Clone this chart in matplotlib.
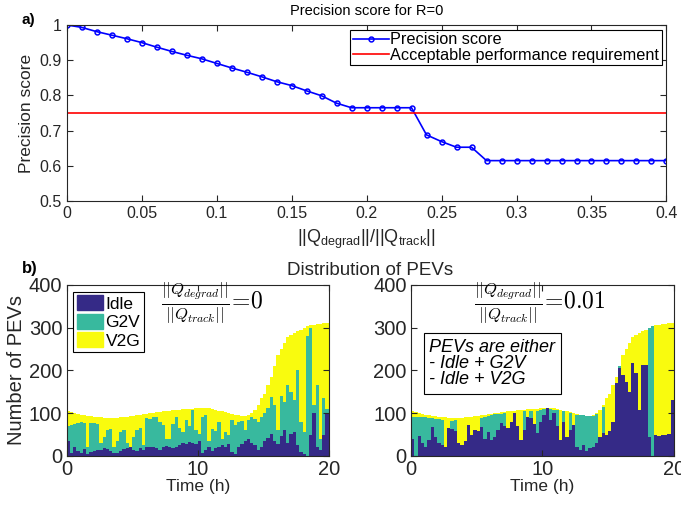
import matplotlib
matplotlib.use('Agg')
import matplotlib.pyplot as plt
import numpy as np
from matplotlib.patches import Patch

plt.rcParams['font.family'] = ['Liberation Sans', 'DejaVu Sans']

# ---- panel a) data
ratio = [0.00, 0.01, 0.02, 0.03, 0.04, 0.05, 0.06, 0.07, 0.08, 0.09, 0.10,
         0.11, 0.12, 0.13, 0.14, 0.15, 0.16, 0.17, 0.18, 0.19, 0.20,
         0.21, 0.22, 0.23, 0.24, 0.25, 0.26, 0.27, 0.28, 0.29, 0.30,
         0.31, 0.32, 0.33, 0.34, 0.35, 0.36, 0.37, 0.38, 0.39, 0.40]
precision = [1.000, 0.993, 0.981, 0.971, 0.961, 0.950, 0.937, 0.925, 0.914, 0.904, 0.891,
             0.878, 0.866, 0.853, 0.839, 0.828, 0.813, 0.799, 0.778, 0.765, 0.765,
             0.765, 0.765, 0.765, 0.688, 0.669, 0.653, 0.653, 0.615, 0.615, 0.615,
             0.615, 0.615, 0.615, 0.615, 0.615, 0.615, 0.615, 0.615, 0.615, 0.615]
requirement = 0.75
a_xticks = [0, 0.05, 0.1, 0.15, 0.2, 0.25, 0.3, 0.35, 0.4]
a_xlabels = ['0', '0.05', '0.1', '0.15', '0.2', '0.25', '0.3', '0.35', '0.4']
a_yticks = [0.5, 0.6, 0.7, 0.8, 0.9, 1.0]
a_ylabels = ['0.5', '0.6', '0.7', '0.8', '0.9', '1']

# ---- panel b) data (15 min slots, 0 .. 19.75 h)
hours = np.arange(80) * 0.25
total = [105, 102, 100, 98, 96, 95, 94, 93, 92, 91, 90, 89, 88, 88, 88, 89,
         90, 91, 92, 93, 94, 95, 96, 97, 98, 100, 101, 102, 103, 104, 105, 106,
         107, 108, 108, 109, 109, 110, 110, 111, 111, 112, 112, 111, 110, 108, 106, 104,
         102, 100, 98, 96, 95, 94, 94, 96, 100, 108, 120, 135, 145, 165, 185, 210,
         235, 250, 265, 278, 283, 288, 292, 295, 300, 303, 306, 307, 308, 309, 310, 311]

left_idle = [34, 6, 22, 12, 6, 16, 4, 10, 12, 13, 15, 18, 16, 12, 6, 8,
             12, 16, 18, 20, 15, 12, 18, 14, 20, 22, 20, 18, 15, 20, 24, 20,
             18, 22, 26, 30, 28, 32, 30, 28, 34, 8, 14, 20, 12, 18, 22, 25,
             20, 28, 10, 4, 20, 28, 34, 40, 30, 25, 15, 20, 36, 42, 52, 36,
             28, 46, 60, 30, 52, 56, 26, 10, 4, 0, 50, 100, 20, 15, 48, 100]
left_g2v = [36, 67, 53, 66, 74, 60, 16, 67, 64, 61, 15, 27, 44, 50, 16, 27,
            43, 44, 12, 2, 30, 48, 47, 11, 68, 64, 70, 74, 65, 52, 16, 20,
            57, 68, 39, 25, 57, 38, 78, 32, 18, 82, 81, 15, 50, 40, 58, 15,
            35, 22, 75, 68, 60, 54, 26, 45, 60, 61, 65, 72, 64, 70, 86, 84,
            32, 94, 65, 135, 98, 74, 174, 70, 51, 280, 250, 20, 145, 25, 87, 10]

right_idle = [40, 0, 47, 30, 20, 38, 68, 45, 30, 25, 20, 65, 62, 58, 30, 25,
              35, 72, 50, 60, 58, 68, 40, 55, 37, 45, 60, 77, 70, 65, 80, 100,
              70, 37, 60, 90, 88, 75, 54, 80, 95, 112, 85, 100, 70, 37, 80, 45,
              60, 72, 20, 15, 25, 12, 18, 22, 30, 45, 54, 50, 58, 80, 170, 205,
              190, 174, 150, 218, 194, 108, 213, 213, 45, 0, 48, 46, 50, 48, 52, 130]
right_g2v = [50, 90, 45, 62, 70, 50, 20, 42, 56, 60, 0, 0, 20, 25, 0, 0,
             0, 0, 0, 0, 0, 20, 52, 38, 58, 52, 38, 20, 30, 0, 0, 0,
             0, 0, 45, 0, 18, 0, 52, 28, 14, 0, 25, 8, 38, 0, 24, 0,
             40, 0, 76, 80, 70, 82, 76, 72, 68, 0, 60, 0, 0, 0, 0, 5,
             0, 0, 0, 0, 0, 0, 0, 0, 255, 303, 0, 0, 0, 0, 0, 0]

c_idle = '#352a87'
c_g2v = '#38b99e'
c_v2g = '#f9fb0e'
edge = '#262626'

fig = plt.figure(figsize=(6.81, 5.08), dpi=100)

# ---------------- a)
ax = fig.add_axes([0.0977, 0.604, 0.881, 0.347])
ax.plot(ratio, precision, '-o', color='blue', lw=1.2, ms=3.5, mfc='none', mew=1.1,
        label='Precision score')
ax.plot([0, 0.4], [requirement, requirement], color='red', lw=1.2,
        label='Acceptable performance requirement')
ax.set_xlim(0, 0.4)
ax.set_ylim(0.5, 1)
ax.set_xticks(a_xticks)
ax.set_xticklabels(a_xlabels)
ax.set_yticks(a_yticks)
ax.set_yticklabels(a_ylabels)
ax.tick_params(direction='in', top=True, right=True, labelsize=11.5, length=4,
               color=edge, labelcolor=edge)
ax.set_ylabel('Precision score', fontsize=12.5, labelpad=4, color=edge)
ax.set_xlabel(r'||Q$_\mathregular{degrad}$||/||Q$_\mathregular{track}$||', fontsize=13,
              labelpad=5, color=edge)
ax.set_title('Precision score for R=0', fontsize=10.5, pad=7)
leg = ax.legend(loc='upper right', fontsize=11.7, fancybox=False, edgecolor='black',
                framealpha=1, borderpad=0.15, handlelength=2.2, handletextpad=0.1,
                labelspacing=0.05, borderaxespad=0.3)
leg.get_frame().set_linewidth(0.8)
for s in ax.spines.values():
    s.set_color(edge)

fig.text(0.032, 0.96, 'a)', fontsize=11, fontweight='bold', va='center')
fig.text(0.032, 0.472, 'b)', fontsize=12, fontweight='bold', va='center')
fig.text(0.543, 0.468, 'Distribution of PEVs', fontsize=13.5, ha='center', va='center',
         color=edge)


def stacked(ax, idle, g2v):
    idle = np.array(idle)
    g2v = np.array(g2v)
    v2g = np.array(total) - idle - g2v
    ax.bar(hours, idle, width=0.25, align='edge', color=c_idle, edgecolor='none')
    ax.bar(hours, g2v, width=0.25, align='edge', bottom=idle, color=c_g2v, edgecolor='none')
    ax.bar(hours, v2g, width=0.25, align='edge', bottom=idle + g2v, color=c_v2g, edgecolor='none')
    ax.set_xlim(0, 20)
    ax.set_ylim(0, 400)
    ax.set_xticks([0, 10, 20])
    ax.set_yticks([0, 100, 200, 300, 400])
    ax.tick_params(direction='in', top=True, right=True, labelsize=14.5, length=4,
                   color=edge, labelcolor=edge, pad=3)
    ax.set_xlabel('Time (h)', fontsize=12.5, labelpad=0, color=edge)
    for s in ax.spines.values():
        s.set_color(edge)


# ---------------- b) left
axl = fig.add_axes([0.0977, 0.1024, 0.385, 0.337])
stacked(axl, left_idle, left_g2v)
axl.set_ylabel('Number of PEVs', fontsize=14.5, labelpad=2, color=edge)
handles = [Patch(color=c_idle), Patch(color=c_g2v), Patch(color=c_v2g)]
lg = axl.legend(handles, ['Idle', 'G2V', 'V2G'], loc='upper left', fontsize=12.5,
                fancybox=False, edgecolor='black', framealpha=1, borderpad=0.2,
                handlelength=1.5, handleheight=0.95, handletextpad=0.15,
                labelspacing=0.12, borderaxespad=0.4)
lg.get_frame().set_linewidth(0.8)
axl.text(0.36, 0.895, r'$\frac{||Q_{degrad}||}{||Q_{track}||}\!=\!0$', transform=axl.transAxes,
         fontsize=17, ha='left', va='center', math_fontfamily='cm')

# ---------------- b) right
axr = fig.add_axes([0.6035, 0.1024, 0.386, 0.337])
stacked(axr, right_idle, right_g2v)
axr.text(0.24, 0.895, r'$\frac{||Q_{degrad}||}{||Q_{track}||}\!=\!0.01$', transform=axr.transAxes,
         fontsize=17, ha='left', va='center', math_fontfamily='cm')
axr.text(0.07, 0.685, 'PEVs are either\n- Idle + G2V\n- Idle + V2G', transform=axr.transAxes,
         fontsize=13, style='italic', ha='left', va='top', linespacing=0.95,
         bbox=dict(boxstyle='square,pad=0.3', fc='white', ec='black', lw=0.8))

fig.savefig('out.png', dpi=100)
